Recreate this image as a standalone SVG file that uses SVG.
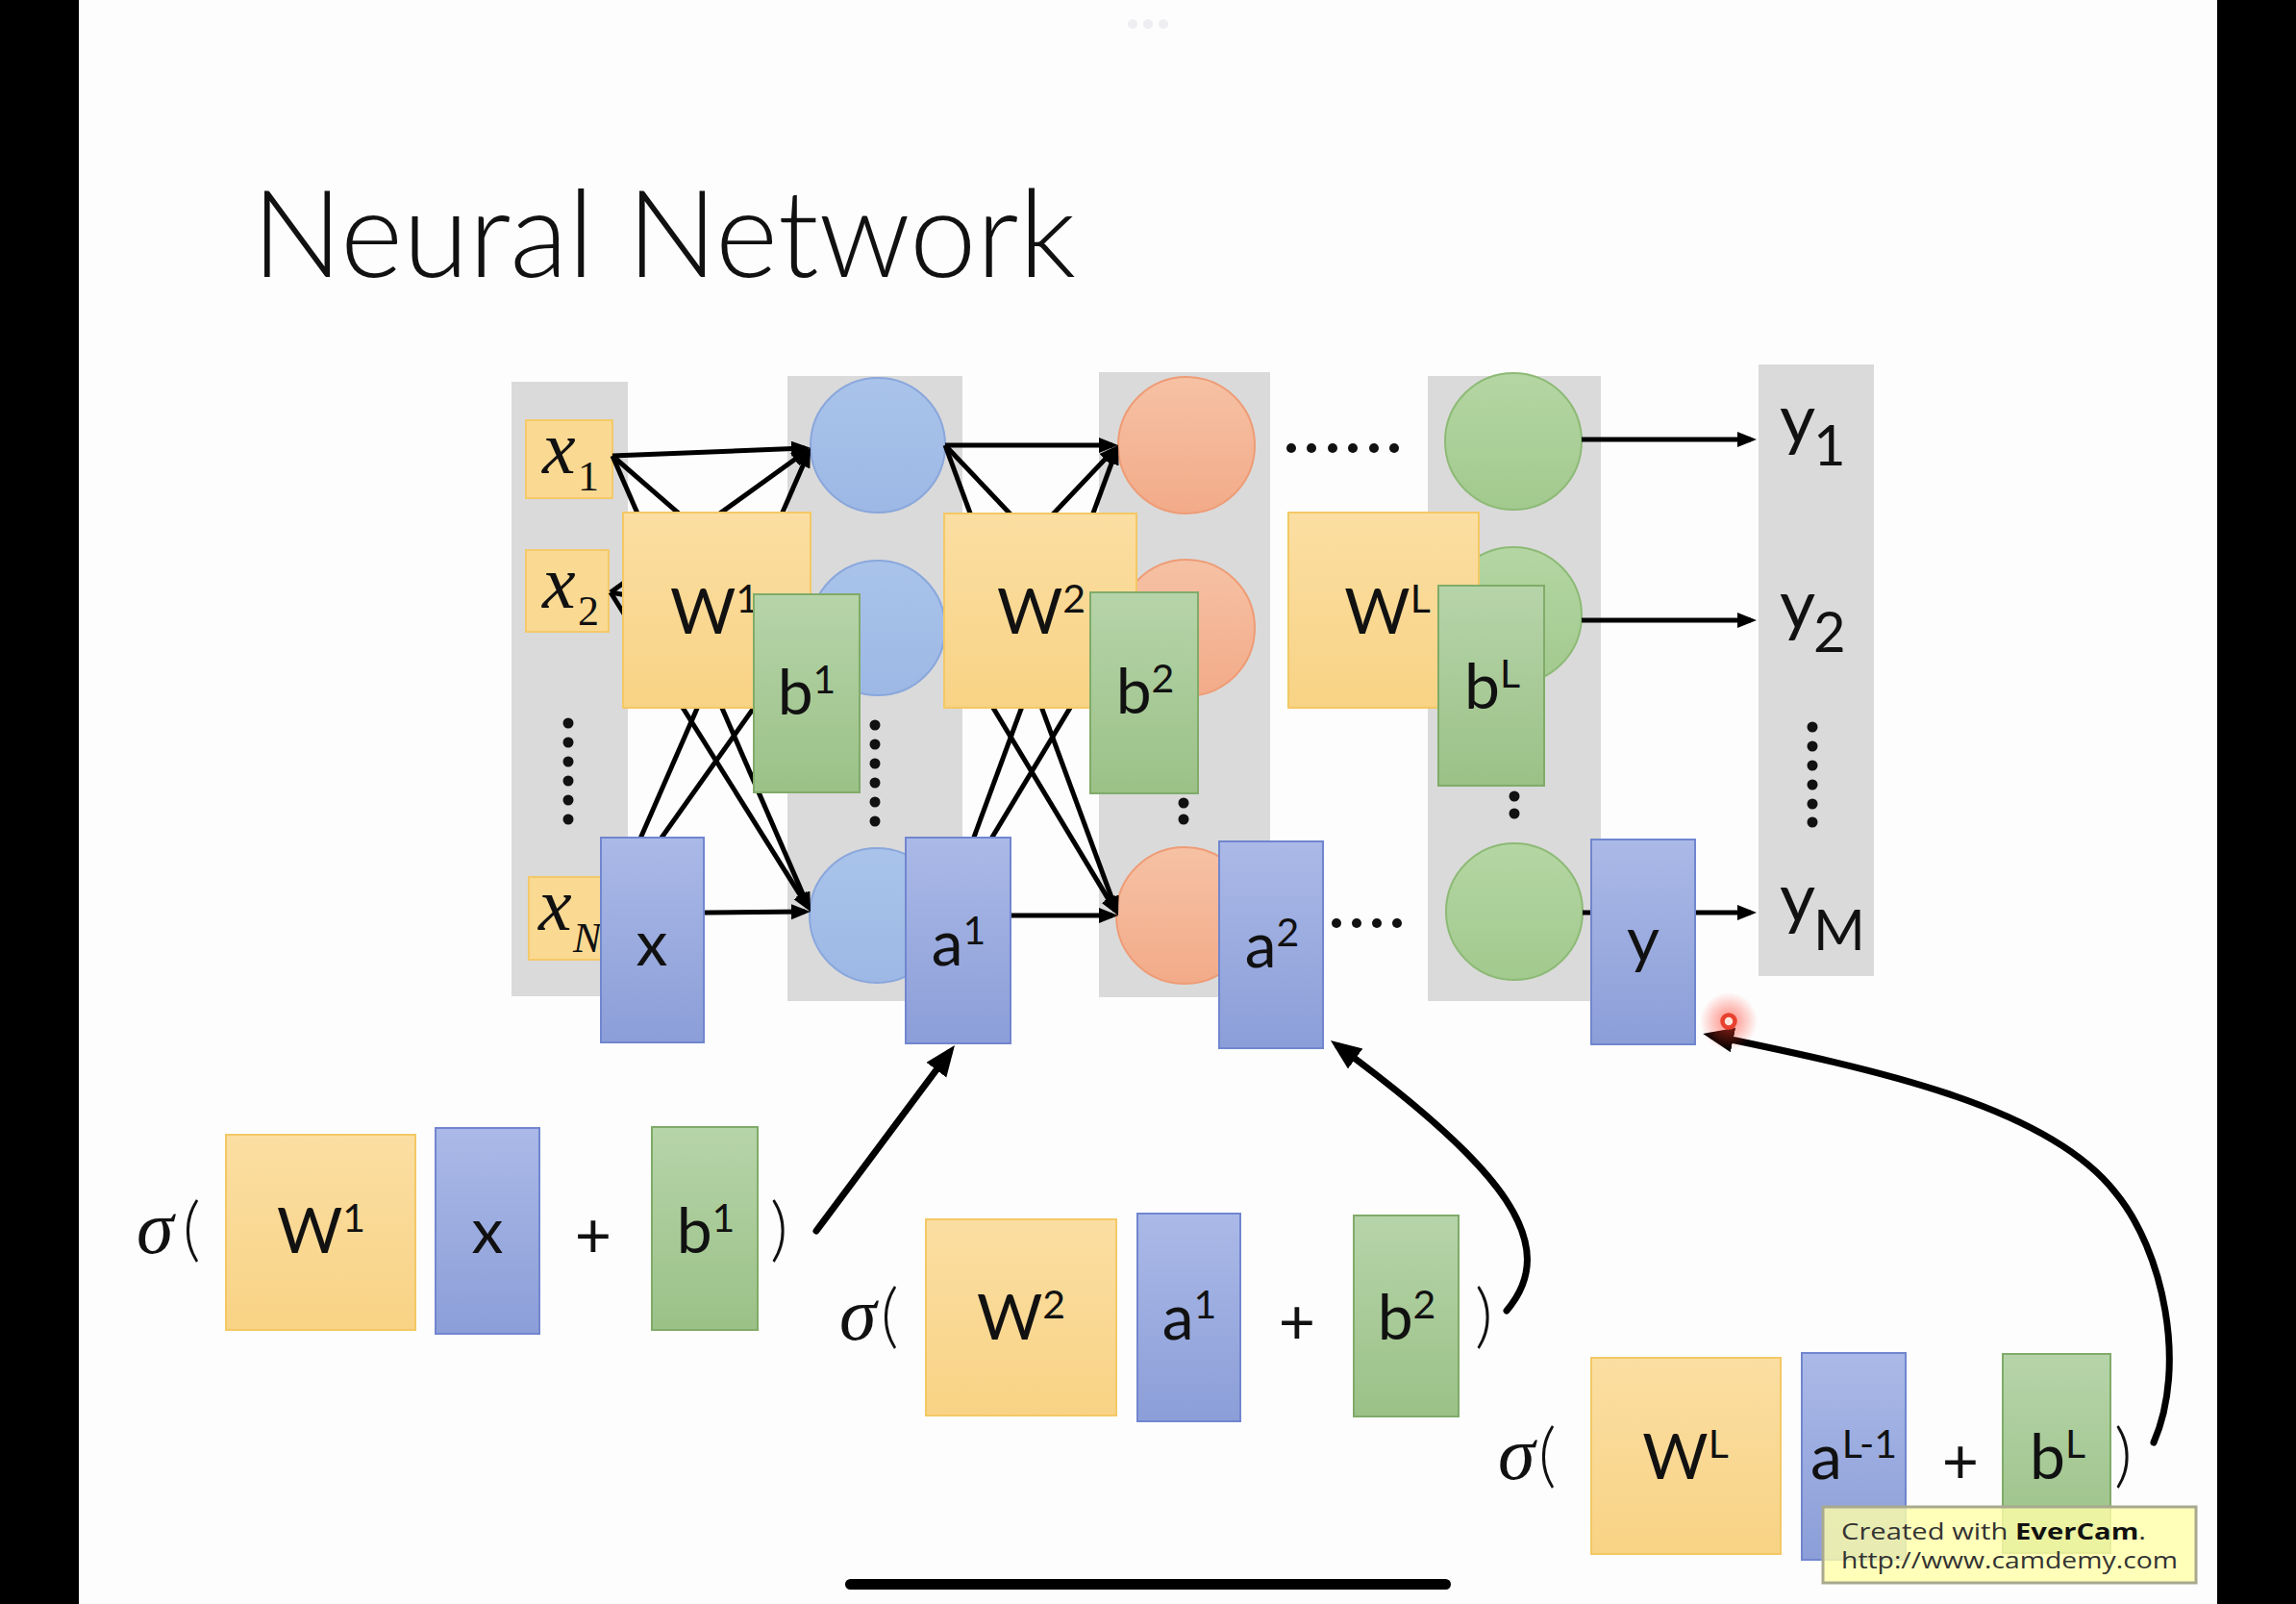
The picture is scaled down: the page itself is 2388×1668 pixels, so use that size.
<svg xmlns="http://www.w3.org/2000/svg" width="2388" height="1668" viewBox="0 0 2388 1668">
<defs>
<style>
.col{fill:#dadada}
.lbl{font-family:Lato,'Liberation Sans',sans-serif;font-size:66px;fill:#111;text-anchor:middle}
.sup{font-size:41px}
.inp{fill:#fad992;stroke:#f4c96a;stroke-width:2}
.ix{font-family:'Liberation Serif',serif;font-style:italic;font-size:78px;fill:#111}
.isub{font-family:'Liberation Serif',serif;font-size:44px;fill:#111}
.W{fill:url(#gW);stroke:#f3c865;stroke-width:2}
.B{fill:url(#gB);stroke:#7186cf;stroke-width:2}
.G{fill:url(#gG);stroke:#80ab69;stroke-width:2}
.cb{fill:url(#gcb);stroke:#8aa7dc;stroke-width:2}
.co{fill:url(#gco);stroke:#ee9c76;stroke-width:2}
.cg{fill:url(#gcg);stroke:#8dba76;stroke-width:2}
.ln{stroke:#000;stroke-width:5;fill:none;marker-end:url(#ah)}
.big{stroke:#000;stroke-width:7;fill:none;stroke-linecap:round;marker-end:url(#ahb)}
.dot{fill:#111}
.sig{font-family:'Liberation Serif',serif;font-style:italic;font-size:78px;fill:#111}
.par{font-family:Lato,'Liberation Sans',sans-serif;font-size:72px;font-weight:300;fill:#111}
.out{font-family:Lato,'Liberation Sans',sans-serif;font-size:72px;fill:#111}
.osub{font-size:58px}
.wm{font-family:'Open Sans','Noto Sans',sans-serif;font-size:24px;fill:#333}
</style>
<linearGradient id="gW" x1="0" y1="0" x2="0" y2="1"><stop offset="0" stop-color="#fbdea2"/><stop offset="1" stop-color="#f8d385"/></linearGradient>
<linearGradient id="gB" x1="0" y1="0" x2="0" y2="1"><stop offset="0" stop-color="#aab9e7"/><stop offset="1" stop-color="#8c9ed8"/></linearGradient>
<linearGradient id="gG" x1="0" y1="0" x2="0" y2="1"><stop offset="0" stop-color="#b6d4a9"/><stop offset="1" stop-color="#9bc187"/></linearGradient>
<linearGradient id="gcb" x1="0" y1="0" x2="0" y2="1"><stop offset="0" stop-color="#a9c3ea"/><stop offset="1" stop-color="#9db8e5"/></linearGradient>
<linearGradient id="gco" x1="0" y1="0" x2="0" y2="1"><stop offset="0" stop-color="#f6c1a4"/><stop offset="1" stop-color="#f2ab89"/></linearGradient>
<linearGradient id="gcg" x1="0" y1="0" x2="0" y2="1"><stop offset="0" stop-color="#b4d6a3"/><stop offset="1" stop-color="#a2c98e"/></linearGradient>
<radialGradient id="rg"><stop offset="0" stop-color="#ff3a28" stop-opacity="0.6"/><stop offset="0.6" stop-color="#ff3a28" stop-opacity="0.25"/><stop offset="1" stop-color="#ff3a28" stop-opacity="0"/></radialGradient>
<marker id="ah" markerUnits="userSpaceOnUse" markerWidth="22" markerHeight="18" viewBox="0 0 22 18" refX="14" refY="8" orient="auto"><path d="M0,0 L20,8 L0,16 z" fill="#000"/></marker>
<marker id="ahb" markerUnits="userSpaceOnUse" markerWidth="34" markerHeight="28" viewBox="0 0 34 28" refX="22" refY="13" orient="auto"><path d="M0,0 L32,13 L0,26 z" fill="#000"/></marker>
</defs>

<rect width="2388" height="1668" fill="#fdfdfd"/>
<rect x="0" y="0" width="82" height="1668" fill="#000"/>
<rect x="2306" y="0" width="82" height="1668" fill="#000"/>
<g id="topdots" fill="#eeeef1"><circle cx="1178" cy="25" r="5"/><circle cx="1194" cy="25" r="5"/><circle cx="1210" cy="25" r="5"/></g>

<text id="title" x="262" y="288" font-family="Lato,'Liberation Sans',sans-serif" font-weight="300" font-size="127" fill="#111" textLength="857" lengthAdjust="spacingAndGlyphs">Neural Network</text>

<g id="columns">
<rect class="col" x="532" y="397" width="121" height="639"/>
<rect class="col" x="819" y="391" width="182" height="650"/>
<rect class="col" x="1143" y="387" width="178" height="650"/>
<rect class="col" x="1485" y="391" width="180" height="650"/>
<rect class="col" x="1829" y="379" width="120" height="636"/>
</g>

<g id="neurons">
<circle id="h1a" class="cb" cx="913" cy="463" r="70"/>
<circle id="h1b" class="cb" cx="913" cy="653" r="70"/>
<circle id="h1c" class="cb" cx="912" cy="952" r="70"/>
<circle id="h2a" class="co" cx="1234" cy="463" r="71"/>
<circle id="h2b" class="co" cx="1234" cy="653" r="71"/>
<circle id="h2c" class="co" cx="1232" cy="952" r="71"/>
<circle id="hLa" class="cg" cx="1574" cy="459" r="71"/>
<circle id="hLb" class="cg" cx="1574" cy="640" r="71"/>
<circle id="hLc" class="cg" cx="1575" cy="948" r="71"/>
</g>

<g id="dots">
<circle class="dot" cx="591" cy="752" r="5.5"/><circle class="dot" cx="591" cy="772" r="5.5"/><circle class="dot" cx="591" cy="792" r="5.5"/><circle class="dot" cx="591" cy="812" r="5.5"/><circle class="dot" cx="591" cy="832" r="5.5"/><circle class="dot" cx="591" cy="852" r="5.5"/>
<circle class="dot" cx="910" cy="754" r="5.5"/><circle class="dot" cx="910" cy="774" r="5.5"/><circle class="dot" cx="910" cy="794" r="5.5"/><circle class="dot" cx="910" cy="814" r="5.5"/><circle class="dot" cx="910" cy="834" r="5.5"/><circle class="dot" cx="910" cy="854" r="5.5"/>
<circle class="dot" cx="1231" cy="835" r="5.5"/><circle class="dot" cx="1231" cy="852" r="5.5"/>
<circle class="dot" cx="1575" cy="828" r="5.5"/><circle class="dot" cx="1575" cy="846" r="5.5"/>
<circle class="dot" cx="1885" cy="756" r="5.5"/><circle class="dot" cx="1885" cy="776" r="5.5"/><circle class="dot" cx="1885" cy="796" r="5.5"/><circle class="dot" cx="1885" cy="816" r="5.5"/><circle class="dot" cx="1885" cy="836" r="5.5"/><circle class="dot" cx="1885" cy="855" r="5.5"/>
<circle class="dot" cx="1343" cy="466" r="5"/><circle class="dot" cx="1364" cy="466" r="5"/><circle class="dot" cx="1386" cy="466" r="5"/><circle class="dot" cx="1407" cy="466" r="5"/><circle class="dot" cx="1429" cy="466" r="5"/><circle class="dot" cx="1450" cy="466" r="5"/>
<circle class="dot" cx="1390" cy="960" r="5"/><circle class="dot" cx="1411" cy="960" r="5"/><circle class="dot" cx="1432" cy="960" r="5"/><circle class="dot" cx="1453" cy="960" r="5"/>
</g>

<g id="inputs">
<g id="in1"><rect class="inp" x="547" y="437" width="90" height="81"/><text class="ix" x="564" y="492">x</text><text class="isub" x="601" y="510">1</text></g>
<g id="in2"><rect class="inp" x="547" y="572" width="86" height="85"/><text class="ix" x="564" y="632">x</text><text class="isub" x="601" y="650">2</text></g>
<g id="inN"><rect class="inp" x="550" y="912" width="84" height="86"/><text class="ix" x="560" y="967">x</text><text class="isub" x="596" y="990" font-style="italic">N</text></g>
</g>

<g id="connectors">
<line class="ln" x1="637" y1="474" x2="837" y2="466"/>
<line class="ln" x1="637" y1="474" x2="838.5" y2="649"/>
<line class="ln" x1="637" y1="474" x2="840.6" y2="942.5"/>
<line class="ln" x1="635" y1="616" x2="838.1" y2="469.5"/>
<line class="ln" x1="635" y1="616" x2="837" y2="652"/>
<line class="ln" x1="635" y1="616" x2="839.8" y2="942.9"/>
<line class="ln" x1="632" y1="950" x2="840.6" y2="471.5"/>
<line class="ln" x1="632" y1="950" x2="839.5" y2="657.9"/>
<line class="ln" x1="632" y1="950" x2="837" y2="948"/>
<line class="ln" x1="983" y1="463" x2="1157" y2="463"/>
<line class="ln" x1="983" y1="463" x2="1158.9" y2="648.6"/>
<line class="ln" x1="983" y1="463" x2="1160.9" y2="946.4"/>
<line class="ln" x1="983" y1="653" x2="1158.9" y2="467.4"/>
<line class="ln" x1="983" y1="653" x2="1157" y2="653"/>
<line class="ln" x1="983" y1="653" x2="1159.9" y2="946.9"/>
<line class="ln" x1="983" y1="952" x2="1160.9" y2="468.6"/>
<line class="ln" x1="983" y1="952" x2="1159.9" y2="658.1"/>
<line class="ln" x1="983" y1="952" x2="1157" y2="952"/>
<line class="ln" x1="1645" y1="457" x2="1821" y2="457"/>
<line class="ln" x1="1645" y1="645" x2="1821" y2="645"/>
<line class="ln" x1="1646" y1="949" x2="1821" y2="949"/>
</g>

<g id="layer1">
<g id="W1"><rect class="W" x="648" y="533" width="195" height="203"/><text class="lbl" x="743" y="659">W<tspan class="sup" dy="-22">1</tspan></text></g>
<g id="b1"><rect class="G" x="784" y="618" width="110" height="206"/><text class="lbl" x="839" y="743">b<tspan class="sup" dy="-22">1</tspan></text></g>
<g id="xvec"><rect class="B" x="625" y="871" width="107" height="213"/><text class="lbl" x="678" y="1004">x</text></g>
<g id="a1"><rect class="B" x="942" y="871" width="109" height="214"/><text class="lbl" x="997" y="1004">a<tspan class="sup" dy="-22">1</tspan></text></g>
</g>
<g id="layer2">
<g id="W2"><rect class="W" x="982" y="534" width="200" height="202"/><text class="lbl" x="1083" y="659">W<tspan class="sup" dy="-22">2</tspan></text></g>
<g id="b2"><rect class="G" x="1134" y="616" width="112" height="209"/><text class="lbl" x="1191" y="742">b<tspan class="sup" dy="-22">2</tspan></text></g>
<g id="a2"><rect class="B" x="1268" y="875" width="108" height="215"/><text class="lbl" x="1323" y="1006">a<tspan class="sup" dy="-22">2</tspan></text></g>
</g>
<g id="layerL">
<g id="WL"><rect class="W" x="1340" y="533" width="198" height="203"/><text class="lbl" x="1443" y="659">W<tspan class="sup" dy="-22">L</tspan></text></g>
<g id="bL"><rect class="G" x="1496" y="609" width="110" height="208"/><text class="lbl" x="1552" y="737">b<tspan class="sup" dy="-22">L</tspan></text></g>
<g id="yvec"><rect class="B" x="1655" y="873" width="108" height="213"/><text class="lbl" x="1709" y="1000">y</text></g>
</g>

<g id="outputs">
<text class="out" x="1851" y="461">y</text><text class="out osub" x="1886" y="484">1</text>
<text class="out" x="1851" y="654">y</text><text class="out osub" x="1886" y="678">2</text>
<text class="out" x="1851" y="959">y</text><text class="out osub" x="1886" y="988">M</text>
</g>

<g id="formula1">
<text class="sig" x="142" y="1303">σ</text><text class="par" x="190" y="1303">(</text>
<g id="fW1"><rect class="W" x="235" y="1180" width="197" height="203"/><text class="lbl" x="334" y="1303">W<tspan class="sup" dy="-22">1</tspan></text></g>
<g id="fx"><rect class="B" x="453" y="1173" width="108" height="214"/><text class="lbl" x="507" y="1303">x</text></g>
<text class="lbl" x="617" y="1308">+</text>
<g id="fb1"><rect class="G" x="678" y="1172" width="110" height="211"/><text class="lbl" x="734" y="1303">b<tspan class="sup" dy="-22">1</tspan></text></g>
<text class="par" x="801" y="1303">)</text>
</g>

<g id="formula2">
<text class="sig" x="873" y="1393">σ</text><text class="par" x="916" y="1393">(</text>
<g id="fW2"><rect class="W" x="963" y="1268" width="198" height="204"/><text class="lbl" x="1062" y="1393">W<tspan class="sup" dy="-22">2</tspan></text></g>
<g id="fa1"><rect class="B" x="1183" y="1262" width="107" height="216"/><text class="lbl" x="1237" y="1393">a<tspan class="sup" dy="-22">1</tspan></text></g>
<text class="lbl" x="1349" y="1398">+</text>
<g id="fb2"><rect class="G" x="1408" y="1264" width="109" height="209"/><text class="lbl" x="1463" y="1393">b<tspan class="sup" dy="-22">2</tspan></text></g>
<text class="par" x="1534" y="1393">)</text>
</g>

<g id="formula3">
<text class="sig" x="1558" y="1538">σ</text><text class="par" x="1600" y="1538">(</text>
<g id="fWL"><rect class="W" x="1655" y="1412" width="197" height="204"/><text class="lbl" x="1753" y="1538">W<tspan class="sup" dy="-22">L</tspan></text></g>
<g id="faL1"><rect class="B" x="1874" y="1407" width="108" height="215"/><text class="lbl" x="1928" y="1538">a<tspan class="sup" dy="-22">L-1</tspan></text></g>
<text class="lbl" x="2039" y="1543">+</text>
<g id="fbL"><rect class="G" x="2083" y="1408" width="112" height="207"/><text class="lbl" x="2140" y="1538">b<tspan class="sup" dy="-22">L</tspan></text></g>
<text class="par" x="2199" y="1538">)</text>
</g>

<g id="feedback-connectors">
<line class="big" x1="849" y1="1280" x2="987" y2="1095"/>
<path class="big" d="M1567,1363 C1625,1295 1565,1215 1392,1088"/>
<path class="big" d="M2240,1500 C2275,1420 2250,1300 2200,1240 C2130,1150 1950,1112 1781,1077"/>
</g>

<g id="pointer">
<circle cx="1798" cy="1062" r="30" fill="url(#rg)"/>
<circle cx="1798" cy="1062" r="6.5" fill="#ffe6df" stroke="#e8402f" stroke-width="4.5"/>
</g>

<g id="watermark">
<rect x="1896" y="1567" width="388" height="79" fill="#ffffa8" fill-opacity="0.8" stroke="#a9a98f" stroke-width="3"/>
<text class="wm" x="1915" y="1601" textLength="317" lengthAdjust="spacingAndGlyphs">Created with <tspan font-weight="bold" fill="#111">EverCam</tspan>.</text>
<text class="wm" x="1915" y="1631" textLength="350" lengthAdjust="spacingAndGlyphs">http://www.camdemy.com</text>
</g>

<rect id="homebar" x="879" y="1642" width="630" height="11" rx="5.5" fill="#000"/>
</svg>
